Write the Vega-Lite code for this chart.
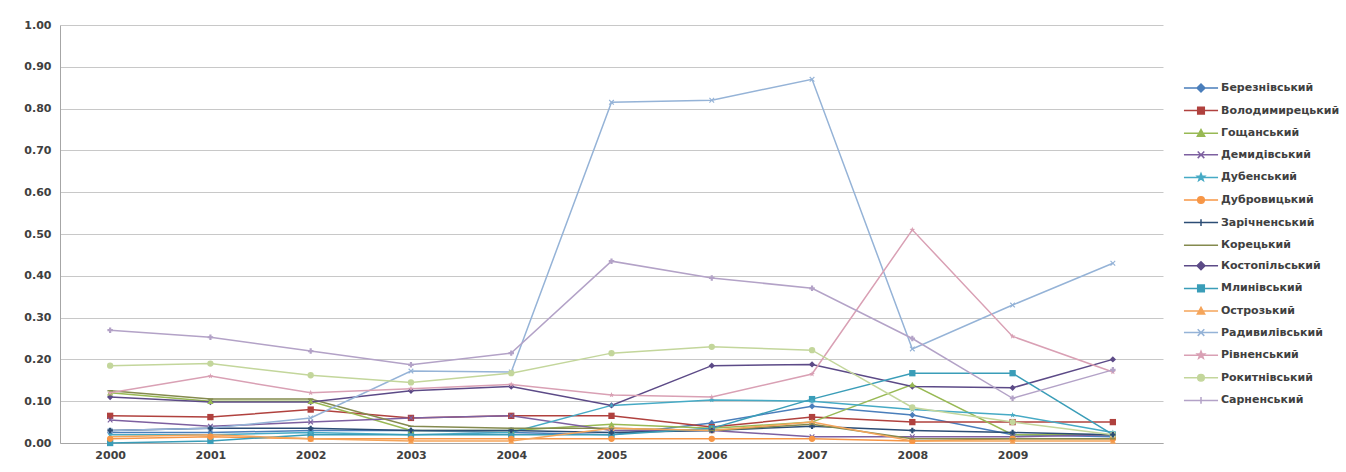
{
"$schema":"https://vega.github.io/schema/vega-lite/v6.json",
"width":1103,"height":418,
"autosize":{"type":"none"},
"padding":{"left":60,"top":25,"right":183,"bottom":29},
"background":"white",
"config":{"view":{"stroke":null},"font":"DejaVu Sans"},
"datasets":{"src":[
{"d":"Березнівський","y":"2000","v":0.025},{"d":"Березнівський","y":"2001","v":0.025},{"d":"Березнівський","y":"2002","v":0.03},{"d":"Березнівський","y":"2003","v":0.03},{"d":"Березнівський","y":"2004","v":0.025},{"d":"Березнівський","y":"2005","v":0.02},{"d":"Березнівський","y":"2006","v":0.048},{"d":"Березнівський","y":"2007","v":0.088},{"d":"Березнівський","y":"2008","v":0.067},{"d":"Березнівський","y":"2009","v":0.02},{"d":"Березнівський","y":"2010","v":0.015},
{"d":"Володимирецький","y":"2000","v":0.065},{"d":"Володимирецький","y":"2001","v":0.062},{"d":"Володимирецький","y":"2002","v":0.08},{"d":"Володимирецький","y":"2003","v":0.06},{"d":"Володимирецький","y":"2004","v":0.065},{"d":"Володимирецький","y":"2005","v":0.065},{"d":"Володимирецький","y":"2006","v":0.038},{"d":"Володимирецький","y":"2007","v":0.062},{"d":"Володимирецький","y":"2008","v":0.05},{"d":"Володимирецький","y":"2009","v":0.05},{"d":"Володимирецький","y":"2010","v":0.05},
{"d":"Гощанський","y":"2000","v":0.12},{"d":"Гощанський","y":"2001","v":0.1},{"d":"Гощанський","y":"2002","v":0.1},{"d":"Гощанський","y":"2003","v":0.03},{"d":"Гощанський","y":"2004","v":0.03},{"d":"Гощанський","y":"2005","v":0.045},{"d":"Гощанський","y":"2006","v":0.035},{"d":"Гощанський","y":"2007","v":0.05},{"d":"Гощанський","y":"2008","v":0.14},{"d":"Гощанський","y":"2009","v":0.02},{"d":"Гощанський","y":"2010","v":0.02},
{"d":"Демидівський","y":"2000","v":0.055},{"d":"Демидівський","y":"2001","v":0.04},{"d":"Демидівський","y":"2002","v":0.05},{"d":"Демидівський","y":"2003","v":0.06},{"d":"Демидівський","y":"2004","v":0.065},{"d":"Демидівський","y":"2005","v":0.03},{"d":"Демидівський","y":"2006","v":0.03},{"d":"Демидівський","y":"2007","v":0.015},{"d":"Демидівський","y":"2008","v":0.015},{"d":"Демидівський","y":"2009","v":0.015},{"d":"Демидівський","y":"2010","v":0.02},
{"d":"Дубенський","y":"2000","v":0.02},{"d":"Дубенський","y":"2001","v":0.02},{"d":"Дубенський","y":"2002","v":0.025},{"d":"Дубенський","y":"2003","v":0.02},{"d":"Дубенський","y":"2004","v":0.025},{"d":"Дубенський","y":"2005","v":0.09},{"d":"Дубенський","y":"2006","v":0.103},{"d":"Дубенський","y":"2007","v":0.1},{"d":"Дубенський","y":"2008","v":0.08},{"d":"Дубенський","y":"2009","v":0.067},{"d":"Дубенський","y":"2010","v":0.025},
{"d":"Дубровицький","y":"2000","v":0.01},{"d":"Дубровицький","y":"2001","v":0.015},{"d":"Дубровицький","y":"2002","v":0.01},{"d":"Дубровицький","y":"2003","v":0.01},{"d":"Дубровицький","y":"2004","v":0.01},{"d":"Дубровицький","y":"2005","v":0.01},{"d":"Дубровицький","y":"2006","v":0.01},{"d":"Дубровицький","y":"2007","v":0.01},{"d":"Дубровицький","y":"2008","v":0.005},{"d":"Дубровицький","y":"2009","v":0.01},{"d":"Дубровицький","y":"2010","v":0.01},
{"d":"Зарічненський","y":"2000","v":0.03},{"d":"Зарічненський","y":"2001","v":0.035},{"d":"Зарічненський","y":"2002","v":0.035},{"d":"Зарічненський","y":"2003","v":0.03},{"d":"Зарічненський","y":"2004","v":0.03},{"d":"Зарічненський","y":"2005","v":0.025},{"d":"Зарічненський","y":"2006","v":0.03},{"d":"Зарічненський","y":"2007","v":0.04},{"d":"Зарічненський","y":"2008","v":0.03},{"d":"Зарічненський","y":"2009","v":0.025},{"d":"Зарічненський","y":"2010","v":0.02},
{"d":"Корецький","y":"2000","v":0.125},{"d":"Корецький","y":"2001","v":0.105},{"d":"Корецький","y":"2002","v":0.105},{"d":"Корецький","y":"2003","v":0.04},{"d":"Корецький","y":"2004","v":0.035},{"d":"Корецький","y":"2005","v":0.035},{"d":"Корецький","y":"2006","v":0.03},{"d":"Корецький","y":"2007","v":0.045},{"d":"Корецький","y":"2008","v":0.01},{"d":"Корецький","y":"2009","v":0.01},{"d":"Корецький","y":"2010","v":0.01},
{"d":"Костопільський","y":"2000","v":0.11},{"d":"Костопільський","y":"2001","v":0.098},{"d":"Костопільський","y":"2002","v":0.098},{"d":"Костопільський","y":"2003","v":0.125},{"d":"Костопільський","y":"2004","v":0.135},{"d":"Костопільський","y":"2005","v":0.09},{"d":"Костопільський","y":"2006","v":0.185},{"d":"Костопільський","y":"2007","v":0.188},{"d":"Костопільський","y":"2008","v":0.135},{"d":"Костопільський","y":"2009","v":0.132},{"d":"Костопільський","y":"2010","v":0.2},
{"d":"Млинівський","y":"2000","v":0.0},{"d":"Млинівський","y":"2001","v":0.005},{"d":"Млинівський","y":"2002","v":0.02},{"d":"Млинівський","y":"2003","v":0.02},{"d":"Млинівський","y":"2004","v":0.02},{"d":"Млинівський","y":"2005","v":0.02},{"d":"Млинівський","y":"2006","v":0.035},{"d":"Млинівський","y":"2007","v":0.105},{"d":"Млинівський","y":"2008","v":0.167},{"d":"Млинівський","y":"2009","v":0.167},{"d":"Млинівський","y":"2010","v":0.02},
{"d":"Острозький","y":"2000","v":0.015},{"d":"Острозький","y":"2001","v":0.02},{"d":"Острозький","y":"2002","v":0.01},{"d":"Острозький","y":"2003","v":0.005},{"d":"Острозький","y":"2004","v":0.005},{"d":"Острозький","y":"2005","v":0.035},{"d":"Острозький","y":"2006","v":0.03},{"d":"Острозький","y":"2007","v":0.05},{"d":"Острозький","y":"2008","v":0.005},{"d":"Острозький","y":"2009","v":0.005},{"d":"Острозький","y":"2010","v":0.005},
{"d":"Радивилівський","y":"2000","v":0.03},{"d":"Радивилівський","y":"2001","v":0.035},{"d":"Радивилівський","y":"2002","v":0.06},{"d":"Радивилівський","y":"2003","v":0.172},{"d":"Радивилівський","y":"2004","v":0.17},{"d":"Радивилівський","y":"2005","v":0.815},{"d":"Радивилівський","y":"2006","v":0.82},{"d":"Радивилівський","y":"2007","v":0.87},{"d":"Радивилівський","y":"2008","v":0.225},{"d":"Радивилівський","y":"2009","v":0.33},{"d":"Радивилівський","y":"2010","v":0.43},
{"d":"Рівненський","y":"2000","v":0.12},{"d":"Рівненський","y":"2001","v":0.16},{"d":"Рівненський","y":"2002","v":0.12},{"d":"Рівненський","y":"2003","v":0.13},{"d":"Рівненський","y":"2004","v":0.14},{"d":"Рівненський","y":"2005","v":0.115},{"d":"Рівненський","y":"2006","v":0.11},{"d":"Рівненський","y":"2007","v":0.165},{"d":"Рівненський","y":"2008","v":0.51},{"d":"Рівненський","y":"2009","v":0.255},{"d":"Рівненський","y":"2010","v":0.17},
{"d":"Рокитнівський","y":"2000","v":0.185},{"d":"Рокитнівський","y":"2001","v":0.19},{"d":"Рокитнівський","y":"2002","v":0.162},{"d":"Рокитнівський","y":"2003","v":0.145},{"d":"Рокитнівський","y":"2004","v":0.167},{"d":"Рокитнівський","y":"2005","v":0.215},{"d":"Рокитнівський","y":"2006","v":0.23},{"d":"Рокитнівський","y":"2007","v":0.222},{"d":"Рокитнівський","y":"2008","v":0.085},{"d":"Рокитнівський","y":"2009","v":0.05},{"d":"Рокитнівський","y":"2010","v":0.02},
{"d":"Сарненський","y":"2000","v":0.27},{"d":"Сарненський","y":"2001","v":0.253},{"d":"Сарненський","y":"2002","v":0.22},{"d":"Сарненський","y":"2003","v":0.187},{"d":"Сарненський","y":"2004","v":0.215},{"d":"Сарненський","y":"2005","v":0.435},{"d":"Сарненський","y":"2006","v":0.395},{"d":"Сарненський","y":"2007","v":0.37},{"d":"Сарненський","y":"2008","v":0.25},{"d":"Сарненський","y":"2009","v":0.107},{"d":"Сарненський","y":"2010","v":0.175}
]},
"data":{"name":"src"},
"encoding":{
"x":{"field":"y","type":"ordinal","scale":{"type":"point","padding":0.5},
"axis":{"title":null,"labelAngle":0,"labelExpr":"datum.value == '2010' ? '' : datum.label","ticks":false,"grid":false,"domainColor":"#A6A6A6","labelFont":"DejaVu Sans","labelFontSize":11,"labelFontWeight":"bold","labelColor":"#404040","labelPadding":6}},
"y":{"field":"v","type":"quantitative","scale":{"domain":[0,1]},
"axis":{"title":null,"values":[0,0.1,0.2,0.3,0.4,0.5,0.6,0.7,0.8,0.9,1],"format":".2f","ticks":false,"gridColor":"#C8C8C8","domainColor":"#A6A6A6","labelFont":"DejaVu Sans","labelFontSize":11,"labelFontWeight":"bold","labelColor":"#404040","labelPadding":9}},
"color":{"field":"d","type":"nominal",
"scale":{"domain":["Березнівський","Володимирецький","Гощанський","Демидівський","Дубенський","Дубровицький","Зарічненський","Корецький","Костопільський","Млинівський","Острозький","Радивилівський","Рівненський","Рокитнівський","Сарненський"],
"range":["#4A7EBB","#B0413E","#98B954","#7D60A0","#46AAC5","#F79646","#2C4D75","#848A4E","#5C4A87","#3A9DB8","#F5A55B","#95B3D7","#D9A0B4","#C3D69B","#B3A2C7"]},
"legend":{"orient":"none","legendX":1129,"legendY":51,"title":null,"padding":0,"symbolSize":484,"symbolType":"stroke","symbolStrokeWidth":1.5,"rowPadding":3.6,"labelOffset":8,"labelFont":"DejaVu Sans","labelFontSize":11,"labelFontWeight":"bold","labelColor":"#404040","labelLimit":0,
"encode":{"symbols":{"update":{
"shape":{"signal":"['M-1.55,0H1.55M0,-0.36L0.36,0L0,0.36L-0.36,0Z','M-1.55,0H1.55M-0.3,-0.3H0.3V0.3H-0.3Z','M-1.55,0H1.55M0,-0.33L0.33,0.27H-0.33Z','M-1.55,0H1.55M-0.3,-0.3L0.3,0.3M-0.3,0.3L0.3,-0.3','M-1.55,0H1.55M0,-0.35L0.09,-0.12L0.33,-0.11L0.14,0.04L0.21,0.28L0,0.14L-0.21,0.28L-0.14,0.04L-0.33,-0.11L-0.09,-0.12Z','M-1.55,0H1.55M-0.3,0A0.3,0.3 0 1,0 0.3,0A0.3,0.3 0 1,0 -0.3,0Z','M-1.55,0H1.55M-0.3,0H0.3M0,-0.3V0.3','M-1.55,0H1.55','M-1.55,0H1.55M0,-0.36L0.36,0L0,0.36L-0.36,0Z','M-1.55,0H1.55M-0.3,-0.3H0.3V0.3H-0.3Z','M-1.55,0H1.55M0,-0.33L0.33,0.27H-0.33Z','M-1.55,0H1.55M-0.3,-0.3L0.3,0.3M-0.3,0.3L0.3,-0.3','M-1.55,0H1.55M0,-0.35L0.09,-0.12L0.33,-0.11L0.14,0.04L0.21,0.28L0,0.14L-0.21,0.28L-0.14,0.04L-0.33,-0.11L-0.09,-0.12Z','M-1.55,0H1.55M-0.3,0A0.3,0.3 0 1,0 0.3,0A0.3,0.3 0 1,0 -0.3,0Z','M-1.55,0H1.55M-0.3,0H0.3M0,-0.3V0.3'][indexof(['Березнівський','Володимирецький','Гощанський','Демидівський','Дубенський','Дубровицький','Зарічненський','Корецький','Костопільський','Млинівський','Острозький','Радивилівський','Рівненський','Рокитнівський','Сарненський'], datum.value)]"},
"fill":{"scale":"color","field":"value"},
"stroke":{"scale":"color","field":"value"},
"strokeWidth":{"value":1.5},
"opacity":{"value":1}
}}}}}
},
"layer":[
{"mark":{"type":"line","strokeWidth":1.5}},
{"transform":[{"filter":{"field":"d","oneOf":["Березнівський","Костопільський"]}}],"mark":{"type":"point","filled":true,"size":40,"opacity":1,"shape":"diamond"}},
{"transform":[{"filter":{"field":"d","oneOf":["Володимирецький","Млинівський"]}}],"mark":{"type":"point","filled":true,"size":40,"opacity":1,"shape":"square"}},
{"transform":[{"filter":{"field":"d","oneOf":["Гощанський","Острозький"]}}],"mark":{"type":"point","filled":true,"size":40,"opacity":1,"shape":"triangle-up"}},
{"transform":[{"filter":{"field":"d","oneOf":["Демидівський","Радивилівський"]}}],"mark":{"type":"point","filled":true,"size":30,"opacity":1,"shape":"M-1,-0.7L-0.7,-1L0,-0.3L0.7,-1L1,-0.7L0.3,0L1,0.7L0.7,1L0,0.3L-0.7,1L-1,0.7L-0.3,0Z"}},
{"transform":[{"filter":{"field":"d","oneOf":["Дубенський","Рівненський"]}}],"mark":{"type":"point","filled":true,"size":36,"opacity":1,"shape":"M0,-1L0.235,-0.324L0.951,-0.309L0.38,0.124L0.588,0.809L0,0.4L-0.588,0.809L-0.38,0.124L-0.951,-0.309L-0.235,-0.324Z"}},
{"transform":[{"filter":{"field":"d","oneOf":["Дубровицький","Рокитнівський"]}}],"mark":{"type":"point","filled":true,"size":40,"opacity":1,"shape":"circle"}},
{"transform":[{"filter":{"field":"d","oneOf":["Зарічненський","Сарненський"]}}],"mark":{"type":"point","filled":true,"size":30,"opacity":1,"shape":"cross"}},
{"transform":[{"filter":{"field":"d","oneOf":["Корецький"]}}],"mark":{"type":"point","filled":true,"size":30,"opacity":1,"shape":"M-1,-0.25H1V0.25H-1Z"}}
]
}
